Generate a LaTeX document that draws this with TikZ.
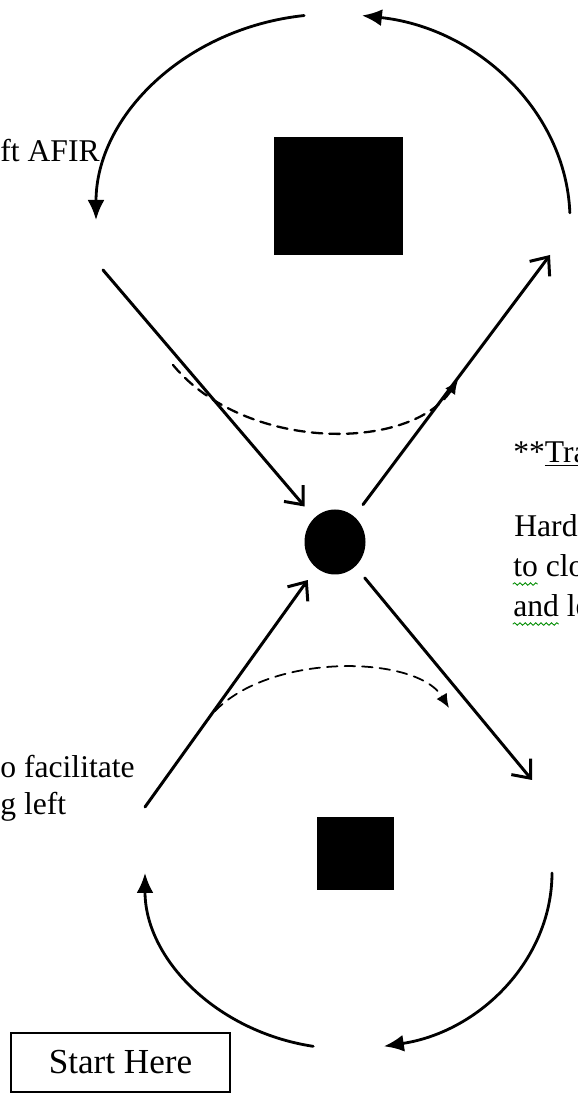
\documentclass[tikz,border=0pt]{standalone}
\usepackage{fontspec}
\setmainfont{Liberation Serif}
\usepackage{tikz}
\usetikzlibrary{arrows.meta,shapes.geometric,decorations.pathmorphing}

\begin{document}
\begin{tikzpicture}[>={Straight Barb[length=3mm,width=5mm]},font=\fontsize{18}{21.6}\selectfont,line cap=round,
  spoke/.style={->,line width=1.7pt},
  loopcurve/.style={-{Latex[length=4mm,width=3.4mm]},line width=1.6pt},
  skip/.style={-{Latex[length=2.8mm,width=2.4mm]},dash pattern=on 6pt off 4pt},
  side/.style={anchor=base west,inner sep=0pt},
  block/.style={fill=black,inner sep=0pt},
  squiggle/.style={green!55!black,line width=0.5pt,decorate,decoration={snake,amplitude=0.7pt,segment length=3pt}}]
\useasboundingbox (0,0) rectangle (11.54,21.9);
% hub and the two blocks
\node[ellipse,fill=black,minimum width=1.22cm,minimum height=1.3cm,inner sep=0pt,outer sep=0.3cm] (dot) at (6.7,11.06) {};
\node[block,minimum width=2.58cm,minimum height=2.36cm] (bigsq) at (6.77,17.98) {};
\node[block,minimum width=1.54cm,minimum height=1.46cm] (smallsq) at (7.11,4.83) {};
% spokes
\coordinate (nw) at (2.06,16.5);
\coordinate (ne) at (11.0,16.8);
\coordinate (sw) at (2.9,5.76);
\coordinate (se) at (10.64,6.3);
\draw[spoke] (nw) -- (dot);
\draw[spoke] (dot) -- (ne);
\draw[spoke] (sw) -- (dot);
\draw[spoke] (dot) -- (se);
% loops round the blocks
\coordinate (ctop) at (6.66,17.5);
\coordinate (cbot) at (6.97,4.44);
\draw[loopcurve] (ctop) ++(97:4.74 and 4.12) arc[start angle=97,end angle=180,x radius=4.74,y radius=4.12];
\draw[loopcurve] (ctop) ++(2:4.74 and 4.12) arc[start angle=2,end angle=83,x radius=4.74,y radius=4.12];
\draw[loopcurve] (cbot) ++(-100:4.07 and 3.52) arc[start angle=-100,end angle=-180,x radius=4.07,y radius=3.52];
\draw[loopcurve] (cbot) ++(0:4.07 and 3.52) arc[start angle=0,end angle=-80,x radius=4.07,y radius=3.52];
% dashed short cuts
\coordinate (u1) at (3.46,14.6);
\coordinate (u2) at (9.16,14.3);
\draw[skip,line width=1.3pt] (u1) .. controls (4.9,12.86) and (8.2,12.86) .. (u2);
\coordinate (l1) at (4.08,7.4);
\coordinate (l2) at (8.98,7.74);
\draw[skip,line width=1pt] (l1) .. controls (5.0,8.86) and (8.3,8.86) .. (l2);
% text
\node[side] (afir) at (0,18.66) {ft AFIR};
\node[side] (tra) at (10.26,12.64) {**\underline{Tra}};
\node[side] (hard) at (10.28,11.16) {Hard};
\node[side] (toclo) at (10.26,10.36) {to clo};
\node[side] (andle) at (10.26,9.56) {and le};
\node[side] (facil) at (0,6.34) {o facilitate};
\node[side] (gleft) at (0,5.6) {g left};
\draw[squiggle] ([yshift=-4pt]toclo.base west) -- ++(0.49,0);
\draw[squiggle] ([yshift=-4pt]andle.base west) -- ++(0.91,0);
\node[draw,line width=0.8pt,minimum width=4.38cm,minimum height=1.18cm,font=\fontsize{20}{24}\selectfont] (start) at (2.41,0.65) {Start Here};
\end{tikzpicture}
\end{document}
